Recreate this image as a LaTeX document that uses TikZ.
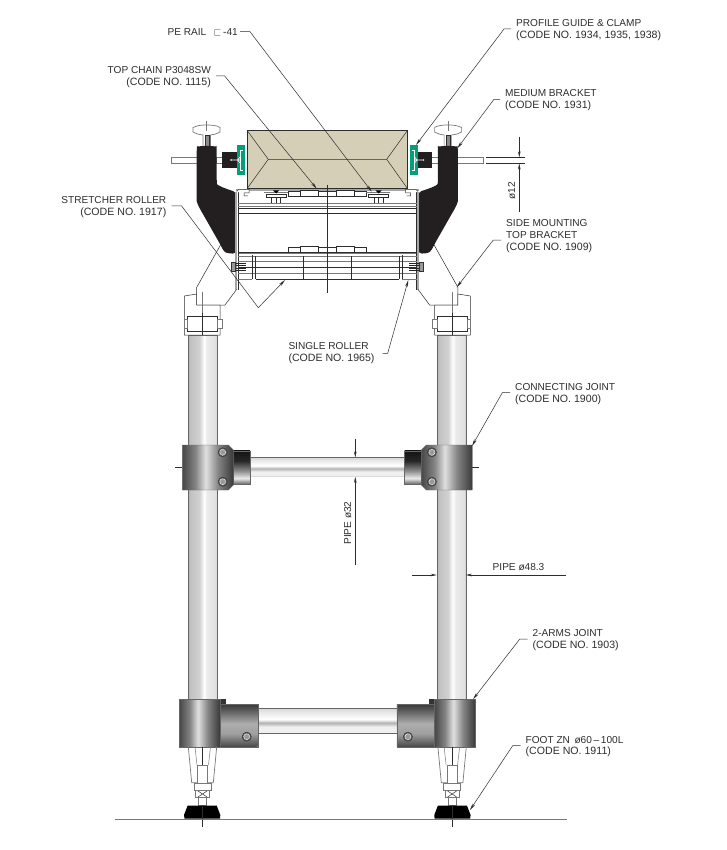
\documentclass[tikz,border=0pt]{standalone}
\usepackage{amssymb}
\usepackage{fontspec}
\setmainfont{Liberation Sans}
\usetikzlibrary{arrows.meta}

\definecolor{inkdark}{RGB}{45,45,45}
\definecolor{linegrey}{RGB}{120,120,120}
\definecolor{boxtan}{RGB}{214,207,184}
\definecolor{guidegreen}{RGB}{0,160,122}
\definecolor{bracketblack}{RGB}{35,31,32}

\pgfdeclarehorizontalshading{pipeshade}{100bp}{color(0bp)=(black!30); color(25bp)=(black!30); color(28bp)=(black!24); color(44bp)=(black!18); color(52bp)=(white); color(57bp)=(black!8); color(72bp)=(black!12); color(75bp)=(black!25); color(100bp)=(black!25)}
\pgfdeclarehorizontalshading{blockshade}{100bp}{color(0bp)=(black!72); color(25bp)=(black!72); color(38bp)=(black!48); color(48bp)=(black!12); color(60bp)=(black!48); color(75bp)=(black!78); color(100bp)=(black!78)}
\pgfdeclareverticalshading{collarshade}{100bp}{color(0bp)=(black!62); color(25bp)=(black!62); color(34bp)=(black!8); color(45bp)=(black!45); color(60bp)=(black!85); color(75bp)=(black!92); color(100bp)=(black!92)}
\pgfdeclareverticalshading{armshade}{100bp}{color(0bp)=(black!72); color(25bp)=(black!72); color(40bp)=(black!38); color(52bp)=(black!32); color(68bp)=(black!65); color(75bp)=(black!78); color(100bp)=(black!78)}
\pgfdeclareverticalshading{rodshade}{100bp}{color(0bp)=(black); color(25bp)=(black); color(27bp)=(black!6); color(38bp)=(black!6); color(46bp)=(black!30); color(53bp)=(white); color(66bp)=(black!8); color(74bp)=(black!15); color(75bp)=(black!50); color(100bp)=(black!50)}

\newcommand{\codeline}[1]{{\fontsize{10.6}{11.7}\selectfont (CODE NO. #1)}}

\tikzset{
  thinline/.style={draw=inkdark,line width=0.5pt},
  greyline/.style={draw=linegrey,line width=0.7pt},
  pipefill/.style={shading=pipeshade,draw=black!60,line width=0.6pt},
  blockfill/.style={shading=blockshade,draw=black!60,line width=0.4pt},
  collarfill/.style={shading=collarshade,draw=black!60,line width=0.4pt},
  armfill/.style={shading=armshade,draw=black!60,line width=0.4pt},
  rodfill/.style={shading=rodshade},
  leader/.style={draw=inkdark,line width=0.5pt,-{Stealth[length=7pt,width=2.8pt]}},
  dimline/.style={draw=inkdark,line width=0.5pt,-{Stealth[length=6pt,width=2.6pt]}},
  lbl/.style={font=\fontsize{10.1}{11.7}\selectfont,text=inkdark,inner xsep=5pt,inner ysep=0pt,text depth=0pt},
  boltdot/.style={draw=black!80,fill=black!65,line width=0.4pt},
  boltring/.style={draw=white,line width=0.5pt,dash pattern=on 1pt off 0.5pt,fill=black!40},
}

% one side of the stand, drawn twice
\newcommand{\sideframe}{%
%Shape: Pipe
\shadedraw [pipefill] (188.5,335) rectangle (217.5,700) ;
%Straight Lines: knob
\draw [greyline,fill=white] (193,127.5) .. controls (197,125.5) and (201,125) .. (206.7,125) .. controls (212,125) and (217,125.5) .. (220,127.5) -- (220,132) .. controls (216,134) and (213,135) .. (210.5,135) -- (210.5,147) -- (203,147) -- (203,135) .. controls (200,135) and (197,134) .. (193,132) -- cycle ;
\draw [fill=black!45,draw=inkdark,line width=0.4pt] (204.7,135) rectangle (208.8,146) ;
\draw [thinline,draw=linegrey] (206.7,121) -- (206.7,131) ;
%Shape: Rod
\draw [greyline,fill=white] (171,157.3) rectangle (198,163.8) ;
\draw [greyline,fill=white] (216,157.3) rectangle (223,163.8) ;
%Shape: Bracket
\fill [bracketblack,rounded corners=3pt] (196.7,149) .. controls (197,147) and (200,146) .. (206.7,146) .. controls (213,146) and (216.7,147) .. (216.7,149) -- (216.7,181) .. controls (217,185) and (222,187.5) .. (236,192) -- (236,253.5) -- (229,253.5) .. controls (224,252) and (222,248) .. (220,244) -- (199.5,208) .. controls (197.5,204) and (196.7,201) .. (196.7,198) -- cycle ;
%Shape: Clamp
\fill [bracketblack] (222.3,152.5) rectangle (237.7,167.7) ;
\fill [guidegreen] (237,145) rectangle (245,175.5) ;
\draw [white,line width=0.9pt] (243,150) -- (240,150) -- (240,170.5) -- (243,170.5) ;
\draw [white,line width=0.6pt] (231,160) -- (240,160) (240,157) -- (237.5,160) -- (240,163) ;
\fill [white] (231,160) circle (0.8) ;
%Straight Lines: side plate
\draw [draw=black!35,line width=2.2pt] (236.3,192) -- (236.3,290) ;
\draw [draw=black!35,line width=1.8pt] (236,190) -- (327.3,190) ;
\draw [thinline] (238,191) -- (238,290) ;
%Straight Lines: top hook
\draw [thinline,fill=white] (236.7,191.5) -- (238.5,189.5) -- (249,189.5) -- (249,193) -- (244,193) -- (244,196) -- (248,196) ;
%Straight Lines: top chain
\draw [thinline,fill=white] (288.3,191) rectangle (300,196.5) ;
\draw [thinline,fill=white] (300,190) rectangle (318.3,196.5) ;
\draw [thinline,fill=white] (318.3,191) rectangle (327.3,196.5) ;
%Straight Lines: screw
\draw [greyline] (264.3,192.5) -- (288.3,192.5) ;
\draw [thinline,fill=white] (266.7,194) rectangle (286.7,197.3) ;
\draw [thinline] (271.7,197.3) -- (271.7,204) (276.7,197.3) -- (276.7,204) (280.7,197.3) -- (280.7,204) ;
\fill [black] (276,193.5) -- (273,190.5) -- (279,190.5) -- cycle ;
%Straight Lines: cross members
\draw [greyline] (238,203) -- (327.3,203) (238,206.5) -- (327.3,206.5) ;
\draw [thinline] (238,208.3) -- (327.3,208.3) (238,213.3) -- (327.3,213.3) ;
%Straight Lines: lower chain
\draw [thinline,fill=white] (288.3,247) rectangle (300,252) ;
\draw [thinline,fill=white] (300,246) rectangle (318.3,252) ;
\draw [thinline,fill=white] (318.3,247) rectangle (327.3,252) ;
\draw [thinline] (238.3,252) -- (327.3,252) ;
\draw [greyline] (239,253.3) -- (327.3,253.3) ;
%Straight Lines: roller
\draw [greyline] (238,256) -- (327.3,256) (238,261.7) -- (327.3,261.7) (238,273.3) -- (327.3,273.3) ;
\draw [thinline] (238,267.3) -- (327.3,267.3) ;
\draw [greyline] (238,279.3) -- (252.3,279.3) ;
\draw [draw=inkdark,line width=0.8pt] (255.7,279.3) -- (327.3,279.3) ;
\draw [thinline] (252.3,255) -- (252.3,279.3) (255.7,256) -- (255.7,279.3) (303.7,256) -- (303.7,279.3) ;
%Straight Lines: bolt
\draw [draw=black!85,line width=0.6pt] (232,263.5) -- (246,263.5) (232,265.7) -- (246,265.7) (232,268) -- (246,268) (232,270) -- (246,270) ;
\draw [draw=black!80,fill=black!40,line width=0.4pt] (231,262.5) rectangle (235,271) ;
%Straight Lines: top bracket
\draw [thinline] (220.5,245) -- (196.7,287.3) -- (196.7,305) -- (225,305) -- (236.5,289.5) ;
\draw [thinline,fill=white] (196.7,294) -- (184.3,296) -- (184.3,335) -- (220,335) -- (220,305) -- (196.7,305) -- cycle ;
\draw [thinline,fill=white] (187.7,316) rectangle (217.7,331.7) ;
\draw [greyline,fill=white] (184.3,319.3) rectangle (187.7,328.3) ;
\draw [greyline,fill=white] (217.7,319.3) rectangle (222.3,328.3) ;
\draw [greyline] (202.3,291.7) -- (202.3,313) ;
\draw [draw=inkdark,line width=1.6pt] (202.3,313) -- (202.3,335) ;
%Shape: Connecting joint
\shadedraw [collarfill] (233.3,450.7) rectangle (250,484.3) ;
\shadedraw [blockfill] (182.3,445) -- (228.3,445) -- (233.3,450) -- (233.3,485) -- (228.3,490) -- (182.3,490) -- cycle ;
\draw [boltdot] (222.7,452.3) circle (4.6) ;
\draw [boltring] (222.7,452.3) circle (3) ;
\draw [boltdot] (222.7,481.7) circle (4.6) ;
\draw [boltring] (222.7,481.7) circle (3) ;
%Shape: 2-arms joint
\shadedraw [armfill] (220,704) rectangle (257.7,746.7) ;
\fill [black!80] (219,699.3) rectangle (225.7,704) ;
\shadedraw [blockfill] (179.3,699.3) -- (220,699.3) -- (220,746.7) -- (179.3,746.7) -- cycle ;
\draw [boltdot] (246.7,736.7) circle (4.6) ;
\draw [boltring] (246.7,736.7) circle (3) ;
%Straight Lines: foot
\draw [greyline] (188.3,746.7) -- (191.7,782.7) -- (213.3,782.7) -- (216.7,746.7) ;
\draw [thinline,draw=linegrey] (195,746.7) -- (197,765) (210.5,746.7) -- (208.5,765) ;
\draw [greyline,fill=white] (197.7,765) rectangle (207.7,783) ;
\draw [greyline,fill=white] (194.3,783.3) rectangle (211,790) ;
\draw [greyline,fill=white] (195.7,790.7) rectangle (209,797.3) ;
\draw [thinline] (198,791) -- (207,797) (207,791) -- (198,797) ;
\draw [greyline,fill=white] (198.3,797.3) rectangle (206.7,805) ;
\fill [black] (187.7,805.5) -- (216.7,805.5) -- (220.3,815) -- (220,818.5) -- (184.5,818.5) -- (184,815) -- cycle ;
\draw [thinline] (202.7,746.7) -- (202.7,765) (202.7,805) -- (202.7,826.7) ;
}

\begin{document}
\begin{tikzpicture}[x=1pt,y=1pt,yscale=-1,xscale=1]
\useasboundingbox (0,0) rectangle (727,850);
\fill [white] (0,0) rectangle (727,850);

%Shape: Rods between the pipes
\shade [rodfill] (249,457.3) rectangle (405.6,476.7) ;
\draw [draw=black!60,line width=0.6pt] (249,457.3) -- (405.6,457.3) ;
\shade [rodfill] (257,708.3) rectangle (397.6,733.3) ;
\draw [draw=black!60,line width=0.6pt] (257,708.3) -- (397.6,708.3) (257,733.3) -- (397.6,733.3) ;

\sideframe
\begin{scope}[xshift=654.6pt,xscale=-1]
\sideframe
\end{scope}

%Shape: Product box
\draw [draw=inkdark,line width=0.7pt,fill=boxtan] (247.3,130.7) rectangle (407.3,188.3) ;
%Straight Lines
\draw [thinline] (247.3,130.7) -- (268.3,159.3) -- (386.7,159.3) -- (407.3,130.7) ;
\draw [thinline] (247.3,188.3) -- (268.3,159.3) (386.7,159.3) -- (407.3,188.3) ;
\draw [thinline] (327.3,185) -- (327.3,292.7) ;

%Straight Lines: floor and ticks
\draw [draw=linegrey,line width=0.8pt] (115,819.3) -- (567,819.3) ;
\draw [thinline] (175,467.3) -- (182,467.3) (472,467.3) -- (479.3,467.3) ;

%Labels
\node (lblPeRail) [lbl,inner xsep=2pt,anchor=east] at (240,31.7) {PE RAIL \ \,$\sqsubset$\,-41};
\node (lblTopChain) [lbl,align=right,anchor=east] at (216,75.8) {TOP CHAIN P3048SW\\\codeline{1115}};
\node (lblStretcher) [lbl,align=right,anchor=east] at (171.5,205.8) {STRETCHER ROLLER\\\codeline{1917}};
\node (lblSingle) [lbl,align=left,anchor=west] at (283.3,352.3) {SINGLE ROLLER\\\codeline{1965}};
\node (lblProfile) [lbl,align=left,anchor=west] at (511,29) {PROFILE GUIDE \& CLAMP\\\codeline{1934, 1935, 1938}};
\node (lblMedium) [lbl,align=left,anchor=west] at (500,99.3) {MEDIUM BRACKET\\\codeline{1931}};
\node (lblSide) [lbl,align=left,anchor=west] at (501,235) {SIDE MOUNTING\\TOP BRACKET\\\codeline{1909}};
\node (lblConnecting) [lbl,align=left,anchor=west] at (510,392.7) {CONNECTING JOINT\\\codeline{1900}};
\node (lblArms) [lbl,align=left,anchor=west] at (527.5,639) {2-ARMS JOINT\\\codeline{1903}};
\node (lblFoot) [lbl,align=left,anchor=west] at (520.5,745.5) {FOOT ZN \,ø60\,–\,100L\\\codeline{1911}};
\node (lblPipeB) [lbl,inner xsep=0pt,anchor=west] at (492.5,567) {PIPE ø48.3};
\node (lblPipeA) [lbl,inner xsep=0pt,rotate=90] at (347.7,523) {PIPE ø32};
\node (lblDia) [lbl,inner xsep=0pt,rotate=90] at (511.5,190.7) {ø12};

%Arrow ends of the leaders
\coordinate (tipPeRail) at (371.7,191.7);
\coordinate (tipTopChain) at (316.7,188.7);
\coordinate (turnStretcher) at (258.3,307.7);
\coordinate (tipStretcher) at (285,280);
\coordinate (tipSingle) at (408.3,280);
\coordinate (tipProfile) at (416,145);
\coordinate (tipMedium) at (457.3,148.3);
\coordinate (tipSide) at (456.7,287.3);
\coordinate (tipConnecting) at (472,446);
\coordinate (tipArms) at (473,699.3);
\coordinate (tipFoot) at (470,810);

%Straight Lines: leaders
\draw [leader] (lblPeRail.east) -- ++(10,0) -- (tipPeRail) ;
\draw [leader] (lblTopChain.east) -- ++(8.5,0) -- (tipTopChain) ;
\draw [thinline] (lblStretcher.east) -- ++(10,0) -- (turnStretcher) ;
\draw [leader] (turnStretcher) -- (tipStretcher) ;
\draw [leader] ([xshift=3pt,yshift=1pt]lblSingle.east) -- ++(5,0) -- (tipSingle) ;
\draw [leader] (lblProfile.west) -- ++(-7,0) -- (tipProfile) ;
\draw [leader] (lblMedium.west) -- ++(-6,0) -- (tipMedium) ;
\draw [leader] ([yshift=5pt]lblSide.west) -- ++(-7.7,0) -- (tipSide) ;
\draw [leader] (lblConnecting.west) -- ++(-7.7,0) -- (tipConnecting) ;
\draw [leader] (lblArms.west) -- ++(-7.7,0) -- (tipArms) ;
\draw [leader] (lblFoot.west) -- ++(-7.7,0) -- (tipFoot) ;

%Dimensions
\coordinate (dimTopA) at (355.3,438.7);
\coordinate (dimTopB) at (355.3,457.5);
\coordinate (dimBotA) at (355.3,565.3);
\coordinate (dimBotB) at (355.3,476.9);
\draw [dimline] (dimTopA) -- (dimTopB) ;
\draw [dimline] (dimBotA) -- (dimBotB) ;
\coordinate (dimLeftA) at (412.3,575);
\coordinate (dimLeftB) at (436.7,575);
\coordinate (dimRightA) at (566,575);
\coordinate (dimRightB) at (465.9,575);
\draw [dimline] (dimLeftA) -- (dimLeftB) ;
\draw [dimline] (dimRightA) -- (dimRightB) ;
\coordinate (dimRodTop) at (519.3,136.7);
\coordinate (dimRodUp) at (519.3,157.3);
\coordinate (dimRodBot) at (519.3,211.7);
\coordinate (dimRodLow) at (519.3,163.5);
\draw [dimline] (dimRodTop) -- (dimRodUp) ;
\draw [dimline] (dimRodBot) -- (dimRodLow) ;
\draw [thinline] (486,157.3) -- (525,157.3) (486,163.5) -- (525,163.5) ;

\end{tikzpicture}
\end{document}
